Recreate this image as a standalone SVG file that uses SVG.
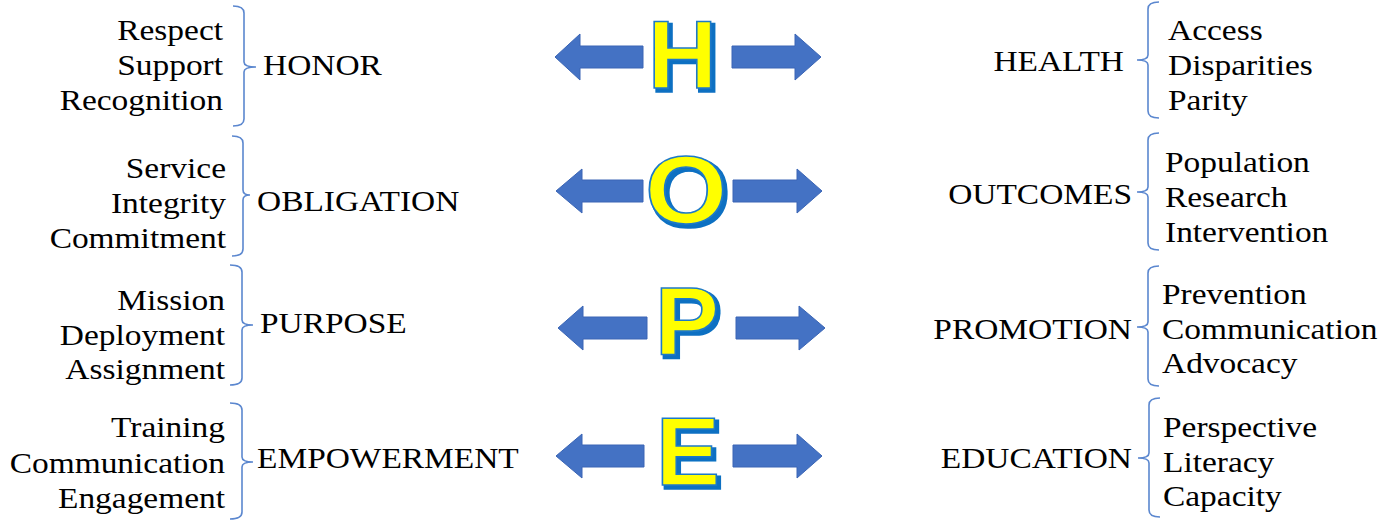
<svg xmlns="http://www.w3.org/2000/svg" width="1391" height="521" viewBox="0 0 1391 521">
<style>
.t{font-family:"Liberation Serif","Times New Roman",serif;font-size:28.7px;fill:#000}
.e{text-anchor:end}
.br{fill:none;stroke:#5B87CF;stroke-width:1.6}
.ar{fill:#4472C4;stroke:#3A65B5;stroke-width:1}
.ls{font-family:"Liberation Sans",Arial,sans-serif;font-weight:bold;font-size:96px;text-anchor:middle;fill:#FFFF00;stroke:#1F7AC8;stroke-width:1.6;filter:url(#shadow)}
</style>
<defs>
<filter id="shadow" x="-20%" y="-20%" width="150%" height="150%">
<feMorphology in="SourceAlpha" operator="dilate" radius="1" result="d"/>
<feOffset in="d" dx="3" dy="3" result="o"/>
<feFlood flood-color="#0A6FC2"/>
<feComposite in2="o" operator="in" result="s"/>
<feMerge><feMergeNode in="s"/><feMergeNode in="SourceGraphic"/></feMerge>
</filter>
</defs>
<rect width="1391" height="521" fill="#fff"/>
<g id="connectors">
<path class="br" d="M233,6 Q244,6 244,13 L244,62 Q244,67 256,67 Q244,67 244,72 L244,119 Q244,126 233,126"/>
<path class="br" d="M232,136 Q243,136 243,143 L243,190 Q243,195 250,195 Q243,195 243,200 L243,249 Q243,256 232,256"/>
<path class="br" d="M230,265 Q242,265 242,272 L242,320 Q242,325 253,325 Q242,325 242,330 L242,378 Q242,385 230,385"/>
<path class="br" d="M230,403 Q242,403 242,410 L242,457 Q242,462 253,462 Q242,462 242,467 L242,512 Q242,519 230,519"/>
<path class="br" d="M1159,2 Q1148,2 1148,9 L1148,55 Q1148,60 1137,60 Q1148,60 1148,65 L1148,111 Q1148,118 1159,118"/>
<path class="br" d="M1159,133 Q1148,133 1148,140 L1148,187 Q1148,192 1137,192 Q1148,192 1148,197 L1148,243 Q1148,250 1159,250"/>
<path class="br" d="M1159,266 Q1148,266 1148,273 L1148,322 Q1148,327 1137,327 Q1148,327 1148,332 L1148,379 Q1148,386 1159,386"/>
<path class="br" d="M1160,398 Q1149,398 1149,405 L1149,453 Q1149,458 1138,458 Q1149,458 1149,463 L1149,510 Q1149,517 1160,517"/>
</g>

<g id="honor">
<text class="t e" transform="translate(223 40) scale(1.165 1)">Respect</text>
<text class="t e" transform="translate(223 75) scale(1.165 1)">Support</text>
<text class="t e" transform="translate(223 110) scale(1.165 1)">Recognition</text>
<text class="t" transform="translate(263 75) scale(1.165 1)">HONOR</text>
</g>
<g id="obligation">
<text class="t e" transform="translate(226 178) scale(1.165 1)">Service</text>
<text class="t e" transform="translate(226 213) scale(1.165 1)">Integrity</text>
<text class="t e" transform="translate(226 248) scale(1.165 1)">Commitment</text>
<text class="t" transform="translate(257 211) scale(1.165 1)">OBLIGATION</text>
</g>
<g id="purpose">
<text class="t e" transform="translate(225 310) scale(1.165 1)">Mission</text>
<text class="t e" transform="translate(225 345) scale(1.165 1)">Deployment</text>
<text class="t e" transform="translate(225 379) scale(1.165 1)">Assignment</text>
<text class="t" transform="translate(260 333) scale(1.165 1)">PURPOSE</text>
</g>
<g id="empowerment">
<text class="t e" transform="translate(225 437) scale(1.165 1)">Training</text>
<text class="t e" transform="translate(225 473) scale(1.165 1)">Communication</text>
<text class="t e" transform="translate(225 508) scale(1.165 1)">Engagement</text>
<text class="t" transform="translate(257 468) scale(1.165 1)">EMPOWERMENT</text>
</g>

<g id="health">
<text class="t e" transform="translate(1124 71) scale(1.165 1)">HEALTH</text>
<text class="t" transform="translate(1168 40) scale(1.165 1)">Access</text>
<text class="t" transform="translate(1168 75) scale(1.165 1)">Disparities</text>
<text class="t" transform="translate(1168 110) scale(1.165 1)">Parity</text>
</g>
<g id="outcomes">
<text class="t e" transform="translate(1132 204) scale(1.165 1)">OUTCOMES</text>
<text class="t" transform="translate(1165 172) scale(1.165 1)">Population</text>
<text class="t" transform="translate(1165 207) scale(1.165 1)">Research</text>
<text class="t" transform="translate(1165 242) scale(1.165 1)">Intervention</text>
</g>
<g id="promotion">
<text class="t e" transform="translate(1132 339) scale(1.165 1)">PROMOTION</text>
<text class="t" transform="translate(1162 304) scale(1.165 1)">Prevention</text>
<text class="t" transform="translate(1162 339) scale(1.165 1)">Communication</text>
<text class="t" transform="translate(1162 373) scale(1.165 1)">Advocacy</text>
</g>
<g id="education">
<text class="t e" transform="translate(1132 468) scale(1.165 1)">EDUCATION</text>
<text class="t" transform="translate(1163 437) scale(1.165 1)">Perspective</text>
<text class="t" transform="translate(1163 472) scale(1.165 1)">Literacy</text>
<text class="t" transform="translate(1163 506) scale(1.165 1)">Capacity</text>
</g>

<g id="letter-H">
<polygon class="ar" points="555,57 580,34 580,46 643,46 643,68 580,68 580,80"/>
<polygon class="ar" points="732,46 795,46 795,34 821,57 795,80 795,68 732,68"/>
<text class="ls" x="682.5" y="88">H</text>
</g>
<g id="letter-O">
<polygon class="ar" points="556,191 582,169 582,180 643,180 643,202 582,202 582,213"/>
<polygon class="ar" points="733,180 797,180 797,169 822,191 797,213 797,202 733,202"/>
<text class="ls" transform="translate(686 223) scale(1.1 1)">O</text>
</g>
<g id="letter-P">
<polygon class="ar" points="558,328 583,306 583,317 647,317 647,339 583,339 583,350"/>
<polygon class="ar" points="736,317 799,317 799,306 825,328 799,350 799,339 736,339"/>
<text class="ls" x="687" y="354">P</text>
</g>
<g id="letter-E">
<polygon class="ar" points="556,456 582,434 582,445 644,445 644,467 582,467 582,478"/>
<polygon class="ar" points="733,445 797,445 797,434 822,456 797,478 797,467 733,467"/>
<text class="ls" x="688" y="485">E</text>
</g>
</svg>
